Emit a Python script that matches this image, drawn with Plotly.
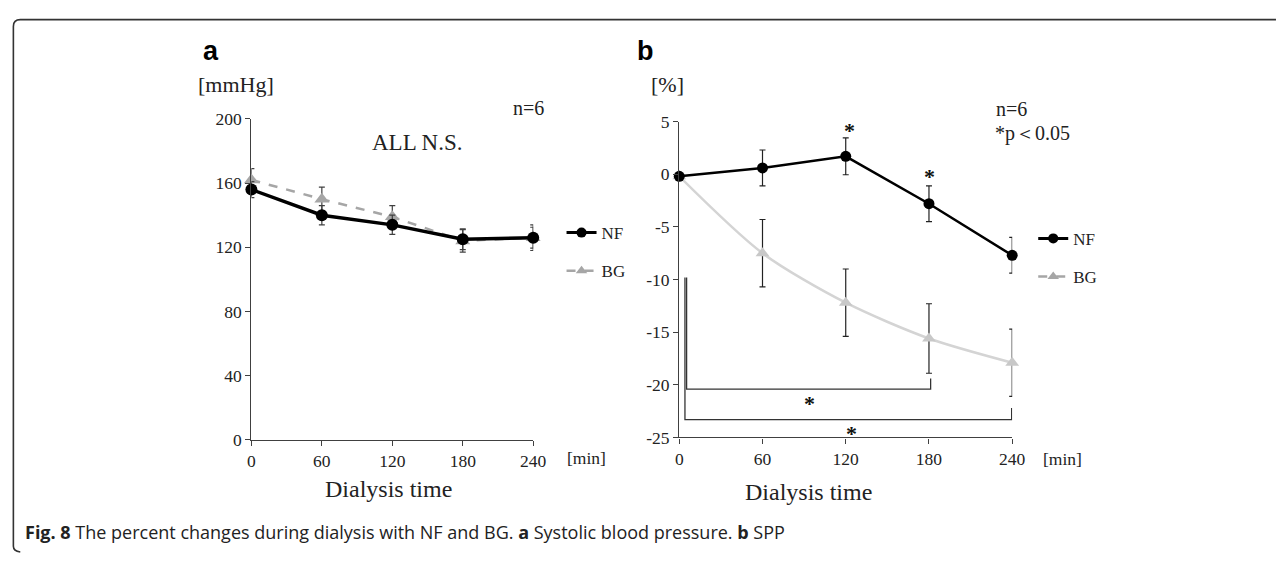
import plotly.graph_objects as go

# Dialysis time points [min]
time_min = [0, 60, 120, 180, 240]

# Panel a: systolic blood pressure [mmHg]
sbp_nf = [156, 140, 134, 125, 126]
sbp_nf_err = [5, 6, 6, 6.5, 6.5]
sbp_bg = [162, 150, 139, 124, 126]
sbp_bg_err = [7, 7.5, 7, 7, 8]
sbp_ticks = [0, 40, 80, 120, 160, 200]

# Panel b: SPP percent change [%]
spp_nf = [-0.2, 0.6, 1.7, -2.8, -7.7]
spp_nf_err = [0, 1.7, 1.75, 1.7, 1.7]
spp_bg = [-0.2, -7.5, -12.2, -15.6, -17.9]
spp_bg_err = [0, 3.2, 3.2, 3.3, 3.2]
spp_ticks = [5, 0, -5, -10, -15, -20, -25]
spp_ticktext = ["5", "0", "-5", "-10", "-15", "-20", "-25"]

W, H = 1287, 561
SERIF = "Liberation Serif, Times New Roman, serif"
AXC = "#404040"


def px(x):
    """pixel x -> paper fraction"""
    return x / W


def py(y):
    """pixel y (from top) -> paper fraction"""
    return 1 - y / H


fig = go.Figure()

# ---- panel a ----
fig.add_trace(go.Scatter(
    x=time_min, y=sbp_bg, mode="lines+markers", xaxis="x", yaxis="y",
    line=dict(color="#a6a6a6", width=2.5, dash="dash"),
    marker=dict(symbol="triangle-up", size=13, color="#a6a6a6"),
    error_y=dict(type="data", array=sbp_bg_err, color=AXC, thickness=1.2, width=3),
    showlegend=False, cliponaxis=False))
fig.add_trace(go.Scatter(
    x=time_min, y=sbp_nf, mode="lines+markers", xaxis="x", yaxis="y",
    line=dict(color="black", width=3.5),
    marker=dict(symbol="circle", size=12, color="black"),
    error_y=dict(type="data", array=sbp_nf_err, color=AXC, thickness=1.2, width=3),
    showlegend=False, cliponaxis=False))

# ---- panel b ----
fig.add_trace(go.Scatter(
    x=time_min, y=spp_bg, mode="lines+markers", xaxis="x2", yaxis="y2",
    line=dict(color="#d4d4d4", width=2.5, shape="spline", smoothing=0.8),
    marker=dict(symbol="triangle-up", size=12, color="#c8c8c8"),
    error_y=dict(type="data", array=spp_bg_err, color="#222", thickness=1.2, width=3),
    showlegend=False, cliponaxis=False))
fig.add_trace(go.Scatter(
    x=time_min, y=spp_nf, mode="lines+markers", xaxis="x2", yaxis="y2",
    line=dict(color="black", width=2.5),
    marker=dict(symbol="circle", size=11, color="black"),
    error_y=dict(type="data", array=spp_nf_err, color="#222", thickness=1.2, width=3),
    showlegend=False, cliponaxis=False))

# ---- legend entries (one legend per panel) ----
for lg in ("legend", "legend2"):
    fig.add_trace(go.Scatter(
        x=[None], y=[None], mode="lines+markers", name="NF", legend=lg,
        legendgroup=lg + "nf",
        line=dict(color="black", width=3), marker=dict(symbol="circle", size=10, color="black")))
    fig.add_trace(go.Scatter(
        x=[None], y=[None], mode="lines+markers", name="BG", legend=lg,
        legendgroup=lg + "bg",
        line=dict(color="#a6a6a6", width=2.5, dash="dash"),
        marker=dict(symbol="triangle-up", size=10, color="#a6a6a6")))

axis_common = dict(
    showgrid=False, zeroline=False, showline=True, linecolor=AXC, linewidth=1.3,
    ticks="outside", tickcolor=AXC, ticklen=5, tickwidth=1.2,
    tickfont=dict(family=SERIF, size=17.5, color="#222"),
)

legend_common = dict(
    font=dict(family=SERIF, size=17, color="#222"), bgcolor="rgba(0,0,0,0)",
    traceorder="grouped", tracegroupgap=13, itemwidth=30,
    xanchor="left", yanchor="middle",
)

# ---- significance brackets in panel b (BG vs baseline) ----
br = dict(color="#333", width=1.3)
shapes = [
    dict(type="path", xref="x2", yref="y2",
         path="M 5.3,-9.8 L 5.3,-20.4 L 181.2,-20.4 L 181.2,-19.4", line=br),
    dict(type="path", xref="x2", yref="y2",
         path="M 4.1,-9.8 L 4.1,-23.3 L 239.6,-23.3 L 239.6,-22.2", line=br),
]

# outer frame with rounded corners
r = 7
fx0, fy0 = 9.5, 10
frame = (f"M {px(W + 2)},{py(fy0)} L {px(fx0 + r)},{py(fy0)} "
         f"Q {px(fx0)},{py(fy0)} {px(fx0)},{py(fy0 + r)} "
         f"L {px(fx0)},{py(H - 5)} Q {px(fx0)},{py(H)} {px(fx0 + r)},{py(H + 1)}")
shapes.append(dict(type="path", xref="paper", yref="paper", path=frame,
                   line=dict(color="#333", width=1.6)))


def ann(text, x, y, size, bold=False, family=SERIF, xanchor="center", color="#222"):
    return dict(text=f"<b>{text}</b>" if bold else text, x=px(x), y=py(y),
                xref="paper", yref="paper", showarrow=False, xanchor=xanchor,
                yanchor="middle", font=dict(family=family, size=size, color=color))


annotations = [
    ann("a", 210, 42, 27, bold=True, family="Liberation Sans, Arial, sans-serif", color="black"),
    ann("b", 650, 42, 27, bold=True, family="Liberation Sans, Arial, sans-serif", color="black"),
    ann("[mmHg]", 235, 77, 22),
    ann("[%]", 672, 77, 22),
    ann("n=6", 532, 102, 20),
    ann("ALL N.S.", 419, 137, 23),
    ann("n=6", 1003, 103, 20, xanchor="left"),
    ann("*p＜0.05", 1002, 128, 20, xanchor="left"),
    ann("[min]", 590, 465, 17.5),
    ann("[min]", 1073, 466, 17.5),
    ann("Dialysis time", 390, 497, 24),
    ann("Dialysis time", 815, 500, 24),
    ann("*", 857, 125, 22, bold=True, color="#111"),
    ann("*", 938, 173, 22, bold=True, color="#111"),
    ann("*", 816, 408, 22, bold=True, color="#111"),
    ann("*", 859, 439, 22, bold=True, color="#111"),
    ann("<b>Fig. 8</b> The percent changes during dialysis with NF and BG. "
        "<b>a</b> Systolic blood pressure. <b>b</b> SPP",
        19, 541, 18, family="Open Sans, Noto Sans, sans-serif", xanchor="left", color="#222"),
]

fig.update_layout(
    width=W, height=H, margin=dict(l=0, r=0, t=0, b=0),
    paper_bgcolor="white", plot_bgcolor="white",
    xaxis=dict(axis_common, domain=[px(250.7), px(536.3)], range=[0, 240],
               tickvals=time_min, anchor="y"),
    yaxis=dict(axis_common, domain=[py(445.7), py(113)], range=[0, 200],
               tickvals=sbp_ticks, anchor="x"),
    xaxis2=dict(axis_common, domain=[px(684.3), px(1021.7)], range=[0, 240],
                tickvals=time_min, anchor="y2"),
    yaxis2=dict(axis_common, domain=[py(443.3), py(115.7)], range=[-25, 5],
                tickvals=spp_ticks, ticktext=spp_ticktext, anchor="x2"),
    legend=dict(legend_common, x=px(565), y=py(251)),
    legend2=dict(legend_common, x=px(1043), y=py(257)),
    shapes=shapes,
    annotations=annotations,
)

fig.write_html("out.html")
